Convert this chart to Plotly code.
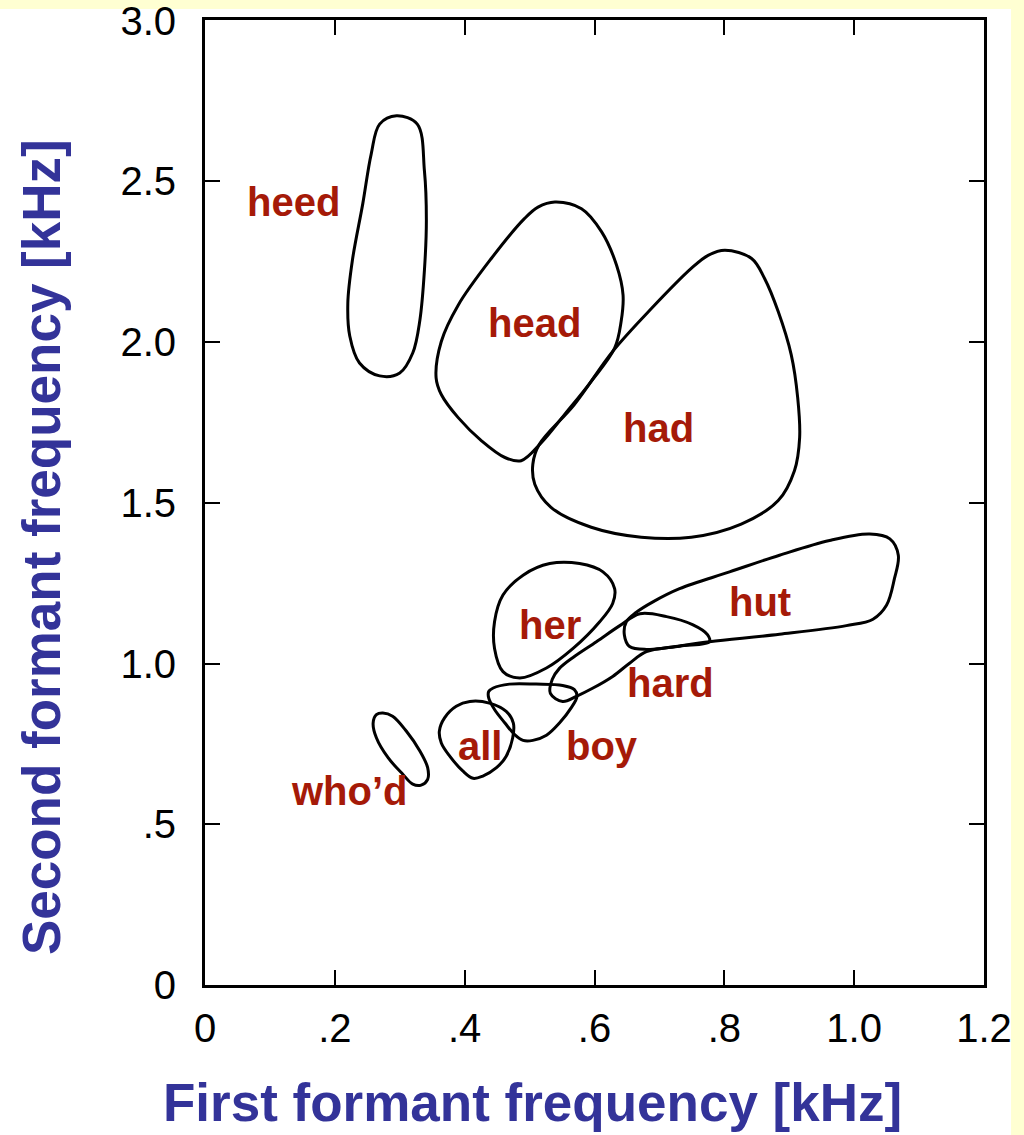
import plotly.graph_objects as go

# Axis ticks (kHz)
f1_ticks = [0, 0.2, 0.4, 0.6, 0.8, 1.0, 1.2]
f1_ticktext = ["0", ".2", ".4", ".6", ".8", "1.0", "1.2"]
f2_ticks = [0, 0.5, 1.0, 1.5, 2.0, 2.5, 3.0]
f2_ticktext = ["0", ".5", "1.0", "1.5", "2.0", "2.5", "3.0"]

# Boundaries of the vowel regions: first formant (F1) vs second formant (F2), kHz
heed_f1 = [0.295, 0.327, 0.338, 0.341, 0.338, 0.331, 0.320, 0.300, 0.269, 0.238,
           0.223, 0.220, 0.227, 0.243, 0.256, 0.269]
heed_f2 = [2.704, 2.678, 2.533, 2.379, 2.223, 2.068, 1.966, 1.904, 1.895, 1.935,
           2.019, 2.121, 2.254, 2.430, 2.585, 2.678]

head_f1 = [0.539, 0.580, 0.611, 0.634, 0.644, 0.641, 0.631, 0.595, 0.554, 0.518,
           0.487, 0.462, 0.426, 0.390, 0.364, 0.356, 0.364, 0.390, 0.441, 0.492, 0.513]
head_f2 = [2.436, 2.415, 2.343, 2.239, 2.146, 2.064, 1.981, 1.878, 1.775, 1.687,
           1.631, 1.641, 1.693, 1.765, 1.837, 1.889, 2.002, 2.115, 2.260, 2.384, 2.420]

had_f1 = [0.801, 0.842, 0.862, 0.883, 0.903, 0.913, 0.916, 0.908, 0.883, 0.826,
          0.749, 0.672, 0.595, 0.533, 0.508, 0.505, 0.515, 0.569, 0.628, 0.688, 0.749, 0.775]
had_f2 = [2.286, 2.260, 2.198, 2.095, 1.961, 1.827, 1.703, 1.600, 1.507, 1.434,
          1.393, 1.393, 1.424, 1.486, 1.558, 1.620, 1.682, 1.806, 1.971, 2.105, 2.229, 2.270]

her_f1 = [0.577, 0.613, 0.631, 0.628, 0.608, 0.567, 0.526, 0.485, 0.459, 0.446,
          0.446, 0.459, 0.490, 0.531]
her_f2 = [1.311, 1.285, 1.233, 1.187, 1.130, 1.047, 0.986, 0.955, 0.975, 1.047,
          1.130, 1.213, 1.275, 1.311]

hut_f1 = [0.646, 0.649, 0.664, 0.690, 0.731, 0.808, 0.885, 0.962, 1.024, 1.055,
          1.068, 1.062, 1.050, 1.029, 0.988, 0.885, 0.777, 0.680, 0.654]
hut_f2 = [1.089, 1.130, 1.159, 1.192, 1.233, 1.285, 1.337, 1.383, 1.403, 1.388,
          1.337, 1.264, 1.182, 1.138, 1.118, 1.091, 1.068, 1.044, 1.053]

hard_f1 = [0.532, 0.535, 0.546, 0.569, 0.603, 0.639, 0.670, 0.711, 0.751, 0.774,
           0.777, 0.731, 0.680, 0.654, 0.628, 0.597, 0.572, 0.551]
hard_f2 = [0.907, 0.951, 0.985, 1.022, 1.068, 1.118, 1.155, 1.146, 1.121, 1.090,
           1.068, 1.054, 1.037, 1.001, 0.960, 0.923, 0.898, 0.882]

boy_f1 = [0.444, 0.469, 0.510, 0.551, 0.569, 0.573, 0.564, 0.546, 0.526, 0.505,
          0.490, 0.477, 0.462, 0.446, 0.437, 0.437]
boy_f2 = [0.924, 0.936, 0.936, 0.932, 0.919, 0.898, 0.862, 0.815, 0.777, 0.761,
          0.761, 0.779, 0.815, 0.857, 0.893, 0.913]

all_f1 = [0.408, 0.438, 0.464, 0.475, 0.474, 0.464, 0.449, 0.428, 0.413, 0.397,
          0.377, 0.364, 0.361, 0.369, 0.387]
all_f2 = [0.882, 0.877, 0.851, 0.815, 0.769, 0.712, 0.676, 0.650, 0.643, 0.666,
          0.712, 0.753, 0.790, 0.831, 0.867]

whod_f1 = [0.274, 0.289, 0.310, 0.331, 0.343, 0.343, 0.333, 0.320, 0.305, 0.282,
           0.264, 0.259, 0.264]
whod_f2 = [0.846, 0.836, 0.790, 0.728, 0.676, 0.640, 0.622, 0.625, 0.655, 0.707,
           0.769, 0.815, 0.841]

regions = [
    (heed_f1, heed_f2), (head_f1, head_f2), (had_f1, had_f2), (her_f1, her_f2),
    (hut_f1, hut_f2), (hard_f1, hard_f2), (boy_f1, boy_f2), (all_f1, all_f2),
    (whod_f1, whod_f2),
]

# Word labels and their positions (kHz)
label_text = ["heed", "head", "had", "her", "hut", "hard", "all", "boy", "who\u2019d"]
label_f1 = [0.136, 0.508, 0.699, 0.531, 0.855, 0.717, 0.423, 0.612, 0.223]
label_f2 = [2.437, 2.059, 1.734, 1.121, 1.192, 0.938, 0.743, 0.743, 0.604]

fig = go.Figure()

for f1, f2 in regions:
    fig.add_trace(go.Scatter(
        x=f1 + [f1[0]], y=f2 + [f2[0]],
        mode="lines",
        line=dict(color="black", width=3, shape="spline", smoothing=1.0),
        fill="toself", fillcolor="rgba(0,0,0,0)",
        hoverinfo="skip", showlegend=False,
    ))

for txt, x, y in zip(label_text, label_f1, label_f2):
    fig.add_annotation(
        x=x, y=y, text=txt, showarrow=False,
        xanchor="center", yanchor="middle",
        font=dict(family="Liberation Sans", size=40, color="#A51A08", weight="bold"),
    )

# Axis titles
title_font = dict(family="Liberation Sans", size=53, color="#333399", weight="bold")
fig.add_annotation(
    xref="paper", yref="paper", x=-0.209, y=0.454,
    text="Second formant frequency [kHz]", textangle=-90, showarrow=False,
    xanchor="center", yanchor="middle", font=title_font,
)
fig.add_annotation(
    xref="paper", yref="paper", x=0.421, y=-0.1222,
    text="First formant frequency [kHz]", showarrow=False,
    xanchor="center", yanchor="middle", font=title_font,
)

# White page area over the pale yellow surround
fig.add_shape(
    type="rect", xref="paper", yref="paper",
    x0=-0.27, x1=1.0347, y0=-0.16, y1=1.0114,
    fillcolor="white", line=dict(width=0), layer="below",
)

axis_common = dict(
    showgrid=False, zeroline=False, automargin=False,
    showline=True, linecolor="black", linewidth=3, mirror="allticks",
    ticks="inside", ticklen=15, tickwidth=2, tickcolor="black",
    tickfont=dict(family="Liberation Sans", size=40, color="black"),
    ticklabeloverflow="allow",
)

fig.update_xaxes(range=[0, 1.2], tickvals=f1_ticks, ticktext=f1_ticktext,
                 ticklabelstandoff=6, **axis_common)
fig.update_yaxes(range=[0, 3.002], tickvals=f2_ticks, ticktext=f2_ticktext,
                 ticklabelstandoff=18, **axis_common)

fig.update_layout(
    width=1024, height=1135,
    margin=dict(l=205, r=40, t=20, b=150, autoexpand=False),
    paper_bgcolor="#FFFFD2",
    plot_bgcolor="white",
    showlegend=False,
)

fig.write_html("out.html")
